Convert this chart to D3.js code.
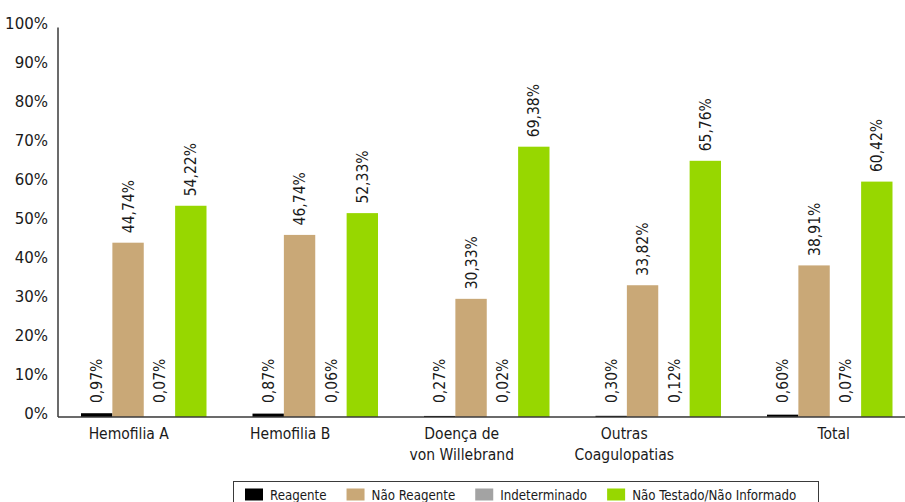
<!DOCTYPE html>
<html>
<head>
<meta charset="utf-8">
<script src="https://cdn.jsdelivr.net/npm/d3@7"></script>
<style>
  html, body { margin: 0; padding: 0; background: #fff; }
  svg { display: block; font-family: "DejaVu Sans Condensed", "Liberation Sans Narrow", "Liberation Sans", sans-serif; }
</style>
</head>
<body>
<svg id="chart" width="905" height="502"></svg>
<script>
// Categories (each entry split into the lines shown under the axis)
const categories = [
  ["Hemofilia A"],
  ["Hemofilia B"],
  ["Doença de", "von Willebrand"],
  ["Outras", "Coagulopatias"],
  ["Total"]
];
const seriesNames = ["Reagente", "Não Reagente", "Indeterminado", "Não Testado/Não Informado"];

// Percentages per category
const reagente      = [0.97, 0.87, 0.27, 0.30, 0.60];
const naoReagente   = [44.74, 46.74, 30.33, 33.82, 38.91];
const indeterminado = [0.07, 0.06, 0.02, 0.12, 0.07];
const naoTestado    = [54.22, 52.33, 69.38, 65.76, 60.42];

const yTicks = [0, 10, 20, 30, 40, 50, 60, 70, 80, 90, 100];

const colors = ["#000000", "#C9A877", "#A3A3A3", "#97D700"];
// Horizontal nudge of each category caption relative to its group centre
const captionNudge = [-15, -25, -25, -34, 4];

const seriesValues = [reagente, naoReagente, indeterminado, naoTestado];
const catKeys = categories.map(c => c.join(" "));
const rows = catKeys.map((k, i) => ({
  key: k,
  lines: categories[i],
  values: seriesNames.map((s, j) => ({ series: s, idx: j, value: seriesValues[j][i] }))
}));

const svg = d3.select("#chart");
const plotLeft = 58, plotBottom = 417, plotTop = 27.4;
const step = 171.5;

const x0 = d3.scaleBand()
  .domain(catKeys)
  .range([plotLeft, plotLeft + step * catKeys.length])
  .paddingInner(46 / step)
  .paddingOuter(23 / step);

const x1 = d3.scaleBand()
  .domain(seriesNames)
  .range([0, x0.bandwidth()])
  .padding(0);

const y = d3.scaleLinear().domain([0, 100]).range([plotBottom, plotTop]);

const fmt = v => v.toFixed(2).replace(".", ",") + "%";

// Y tick labels (no tick marks)
svg.append("g")
  .selectAll("text")
  .data(yTicks)
  .join("text")
  .attr("x", 48)
  .attr("y", d => y(d) - 4)
  .attr("dy", "0.35em")
  .attr("text-anchor", "end")
  .attr("font-size", 16.7)
  .attr("fill", "#1a1a1a")
  .text(d => d + "%");

// Bars
const groups = svg.append("g")
  .selectAll("g")
  .data(rows)
  .join("g")
  .attr("transform", d => `translate(${x0(d.key)},0)`);

groups.selectAll("rect")
  .data(d => d.values)
  .join("rect")
  .attr("x", d => x1(d.series))
  .attr("y", d => y(d.value))
  .attr("width", x1.bandwidth())
  .attr("height", d => y(0) - y(d.value))
  .attr("fill", d => colors[d.idx]);

// Rotated value labels
groups.selectAll("text.val")
  .data(d => d.values)
  .join("text")
  .attr("class", "val")
  .attr("transform", d => {
    const cx = x1(d.series) + x1.bandwidth() / 2;
    const cy = Math.min(y(d.value) - 9.5, y(0) - 14);
    return `translate(${cx},${cy}) rotate(-90)`;
  })
  .attr("dy", "0.36em")
  .attr("text-anchor", "start")
  .attr("font-size", 15.5)
  .attr("fill", "#1a1a1a")
  .text(d => fmt(d.value));

// Axis lines
svg.append("line")
  .attr("x1", plotLeft).attr("x2", plotLeft)
  .attr("y1", y(100)).attr("y2", y(0))
  .attr("stroke", "#3a3a3a").attr("stroke-width", 1.5);
svg.append("line")
  .attr("x1", plotLeft).attr("x2", 905)
  .attr("y1", y(0)).attr("y2", y(0))
  .attr("stroke", "#3a3a3a").attr("stroke-width", 1.5);

// Category captions
const captions = svg.append("g")
  .selectAll("text")
  .data(rows)
  .join("text")
  .attr("x", (d, i) => x0(d.key) + x0.bandwidth() / 2 + captionNudge[i])
  .attr("y", 438.5)
  .attr("text-anchor", "middle")
  .attr("font-size", 15.5)
  .attr("fill", "#1a1a1a");
captions.selectAll("tspan")
  .data(d => d.lines)
  .join("tspan")
  .attr("x", function () { return d3.select(this.parentNode).attr("x"); })
  .attr("dy", (d, i) => i === 0 ? 0 : 21)
  .text(d => d);

// Legend
const legend = svg.append("g");
legend.append("rect")
  .attr("x", 233.5).attr("y", 481.5)
  .attr("width", 585).attr("height", 30)
  .attr("fill", "#fff")
  .attr("stroke", "#3a3a3a").attr("stroke-width", 1);

let lx = 245;
seriesNames.forEach((name, i) => {
  legend.append("rect")
    .attr("x", lx).attr("y", 488.5)
    .attr("width", 18).attr("height", 12)
    .attr("fill", colors[i]);
  const t = legend.append("text")
    .attr("x", lx + 25).attr("y", 499.5)
    .attr("font-size", 13.2)
    .attr("fill", "#1a1a1a")
    .text(name);
  lx += 25 + t.node().getComputedTextLength() + 20;
});
</script>
</body>
</html>
